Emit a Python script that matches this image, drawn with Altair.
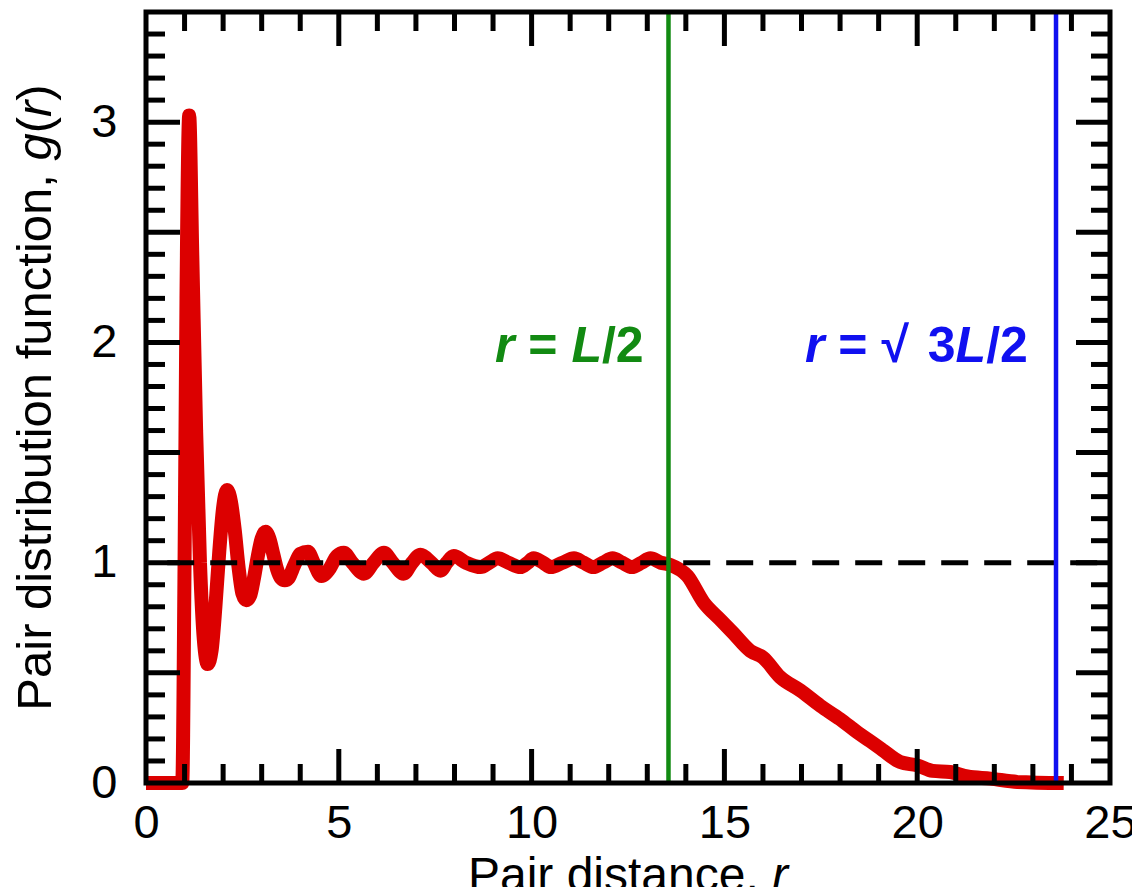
import altair as alt
import pandas as pd

FONT = "Liberation Sans"

# g(r) curve
r_vals = [0.0, 0.94, 1.0, 1.05, 1.12, 1.2, 1.3, 1.4, 1.5, 1.6, 1.7, 1.8, 1.9, 2.0, 2.1,
          2.2, 2.3, 2.4, 2.5, 2.6, 2.7, 2.8, 2.9, 3.0, 3.1, 3.2, 3.3, 3.4, 3.5, 3.6,
          3.7, 3.8, 3.9, 4.0, 4.2, 4.35, 4.55, 4.75, 4.95, 5.13, 5.35, 5.65, 5.9,
          6.17, 6.4, 6.68, 6.9, 7.12, 7.4, 7.64, 7.8, 7.98, 8.3, 8.68, 8.9, 9.12,
          9.4, 9.71, 9.9, 10.05, 10.3, 10.5, 10.8, 11.1, 11.35, 11.6, 11.85, 12.1,
          12.35, 12.6, 12.85, 13.08, 13.35, 13.6, 14.04, 14.46, 14.9, 15.23, 15.67,
          16.0, 16.45, 16.97, 17.49, 18.0, 18.45, 18.78, 19.1, 19.56, 20.0, 20.4,
          20.85, 21.3, 21.9, 22.6, 23.8]
g_vals = [0.0, 0.0, 1.0, 2.2, 3.03, 2.4, 1.6, 1.0, 0.65, 0.54, 0.6, 0.8, 1.05, 1.25, 1.33,
          1.28, 1.15, 0.98, 0.86, 0.83, 0.85, 0.93, 1.03, 1.11, 1.14, 1.11, 1.04, 0.97, 0.93, 0.92,
          0.93, 0.97, 1.01, 1.04, 1.05, 1.0, 0.94, 0.97, 1.03, 1.045, 1.0, 0.95, 1.0,
          1.045, 1.0, 0.95, 1.0, 1.036, 1.0, 0.964, 1.0, 1.03, 1.0, 0.98, 1.0, 1.02,
          1.0, 0.98, 1.0, 1.02, 1.0, 0.98, 1.0, 1.02, 1.0, 0.98, 1.0, 1.02,
          1.0, 0.98, 1.0, 1.02, 1.0, 0.99, 0.94, 0.82, 0.74, 0.68, 0.60,
          0.57, 0.48, 0.42, 0.35, 0.29, 0.23, 0.19, 0.15, 0.095, 0.08, 0.055,
          0.05, 0.03, 0.02, 0.005, 0.0]

x_labels = [0, 5, 10, 15, 20, 25]
y_labels = [0, 1, 2, 3]
x_major_ticks = [5, 10, 15, 20]
x_minor_ticks = [1, 2, 3, 4, 6, 7, 8, 9, 11, 12, 13, 14, 16, 17, 18, 19, 21, 22, 23, 24]
y_major_ticks = [0.5, 1.0, 1.5, 2.0, 2.5, 3.0]
y_minor_ticks = [0.1, 0.2, 0.3, 0.4, 0.6, 0.7, 0.8, 0.9, 1.1, 1.2, 1.3, 1.4,
                 1.6, 1.7, 1.8, 1.9, 2.1, 2.2, 2.3, 2.4, 2.6, 2.7, 2.8, 2.9,
                 3.1, 3.2, 3.3, 3.4]

half_box = 13.55
diag = 23.6
unity = 1.0

W, H = 964, 771
MAJ, MIN = 34, 19

xs = alt.Scale(domain=[0, 25], nice=False, zero=False)
ys = alt.Scale(domain=[0, 3.5], nice=False, zero=False)

xaxis = alt.Axis(values=x_labels, title=None, grid=False, ticks=False,
                 tickSize=0, domain=False, labelPadding=17, labelFlush=False,
                 labelOverlap=False, labelFontSize=47, labelFont=FONT,
                 labelColor="black")
yaxis = alt.Axis(values=y_labels, title=None, grid=False,
                 ticks=False, tickSize=0, domain=False, labelPadding=29,
                 labelFlush=False, labelOverlap=False, labelFontSize=47,
                 labelFont=FONT, labelColor="black")

X = alt.X("r:Q", scale=xs, axis=xaxis)
Y = alt.Y("g:Q", scale=ys, axis=yaxis)

curve = pd.DataFrame({"r": r_vals, "g": g_vals})

red = alt.Chart(curve).mark_line(color="#dc0000", strokeWidth=14, strokeJoin="bevel",
                                 interpolate="monotone", clip=False).encode(x=X, y=Y)

dash = alt.Chart(pd.DataFrame({"r": [0.55], "r2": [25], "g": [unity]})).mark_rule(
    color="black", strokeWidth=5, strokeDash=[27, 16]).encode(x=X, x2="r2:Q", y=Y)

green = alt.Chart(pd.DataFrame({"r": [half_box]})).mark_rule(
    color="#128a12", strokeWidth=4.5).encode(x=X)
blue = alt.Chart(pd.DataFrame({"r": [diag]})).mark_rule(
    color="#1010f0", strokeWidth=4.5).encode(x=X)

frame = alt.Chart(pd.DataFrame({"r": [0]})).mark_rect(
    fill=None, fillOpacity=0, stroke="black", strokeWidth=5).encode(
    x=alt.value(0), x2=alt.value(W), y=alt.value(0), y2=alt.value(H))

def ticks_y(vals, length, side):
    df = pd.DataFrame({"g": vals})
    if side == "left":
        x0, x1 = 0, length
    else:
        x0, x1 = W, W - length
    return alt.Chart(df).mark_rule(color="black", strokeWidth=5).encode(
        y=Y, x=alt.value(x0), x2=alt.value(x1))

def ticks_x(vals, length, side):
    df = pd.DataFrame({"r": vals})
    if side == "bottom":
        y0, y1 = H, H - length
    else:
        y0, y1 = 0, length
    return alt.Chart(df).mark_rule(color="black", strokeWidth=5).encode(
        x=X, y=alt.value(y0), y2=alt.value(y1))

tick_layers = [
    ticks_y(y_major_ticks, MAJ, "left"), ticks_y(y_minor_ticks, MIN, "left"),
    ticks_y(y_major_ticks, MAJ, "right"), ticks_y(y_minor_ticks, MIN, "right"),
    ticks_x(x_major_ticks, MAJ, "bottom"), ticks_x(x_minor_ticks, MIN, "bottom"),
    ticks_x(x_major_ticks, MAJ, "top"), ticks_x(x_minor_ticks, MIN, "top"),
]

# axis titles with italic symbols
TF = 48
x_title_left = W / 2 - 6.669 * TF / 2
x_title_top = H + 17 + 47 + 6
YF = 49
y_title_start = H / 2 + 12.782 * YF / 2
y_title_base = -95

def title_piece(text, x, y, italic, angle=0, baseline="top", size=TF):
    kw = dict(font=FONT, fontSize=size, color="black", align="left",
              baseline=baseline, angle=angle)
    if italic:
        kw["fontStyle"] = "italic"
    return alt.Chart(pd.DataFrame({"r": [0]})).mark_text(**kw).encode(
        x=alt.value(x), y=alt.value(y), text=alt.value(text))

titles = [
    title_piece("Pair distance,", x_title_left, x_title_top, False),
    title_piece("r", x_title_left + 6.336 * TF, x_title_top, True),
    title_piece("Pair distribution function,", y_title_base, y_title_start, False,
                angle=270, baseline="alphabetic", size=YF),
    title_piece("g", y_title_base, y_title_start - 11.227 * YF, True,
                angle=270, baseline="alphabetic", size=YF),
    title_piece("(", y_title_base, y_title_start - 11.783 * YF, False,
                angle=270, baseline="alphabetic", size=YF),
    title_piece("r", y_title_base, y_title_start - 12.116 * YF, True,
                angle=270, baseline="alphabetic", size=YF),
    title_piece(")", y_title_base, y_title_start - 12.449 * YF, False,
                angle=270, baseline="alphabetic", size=YF),
]

FS = 50

def piece(text, x0, y0, dx, color, italic):
    kw = dict(font=FONT, fontSize=FS, fontWeight="bold", color=color, align="left",
              baseline="alphabetic", dx=dx)
    if italic:
        kw["fontStyle"] = "italic"
    return alt.Chart(pd.DataFrame({"r": [x0], "g": [y0]})).mark_text(**kw).encode(
        x=X, y=Y, text=alt.value(text))

gx, gy = 9.05, 1.91
bx, by = 17.09, 1.91
GC = "#128a12"
BC = "#1010f0"
em = FS
annot = [
    piece("r", gx, gy, 0, GC, True),
    piece("=", gx, gy, 0.667 * em, GC, False),
    piece("L", gx, gy, 1.529 * em, GC, True),
    piece("/2", gx, gy, 2.14 * em, GC, False),
    piece("r", bx, by, 0, BC, True),
    piece("=", bx, by, 0.667 * em, BC, False),
    piece("\u221a", bx, by, 1.529 * em, BC, False),
    piece("3", bx, by, 2.356 * em + 5, BC, False),
    piece("L", bx, by, 2.912 * em + 5, BC, True),
    piece("/2", bx, by, 3.523 * em + 5, BC, False),
]

chart = alt.layer(red, dash, green, blue, frame, *tick_layers, *titles, *annot).properties(
    width=W, height=H,
    padding={"left": 138, "top": 4, "right": 22, "bottom": 104},
    autosize=alt.AutoSizeParams(type="none"),
).configure_view(stroke=None).configure(background="white")

chart.save("out.html", embed_options={"renderer": "svg", "actions": False})
